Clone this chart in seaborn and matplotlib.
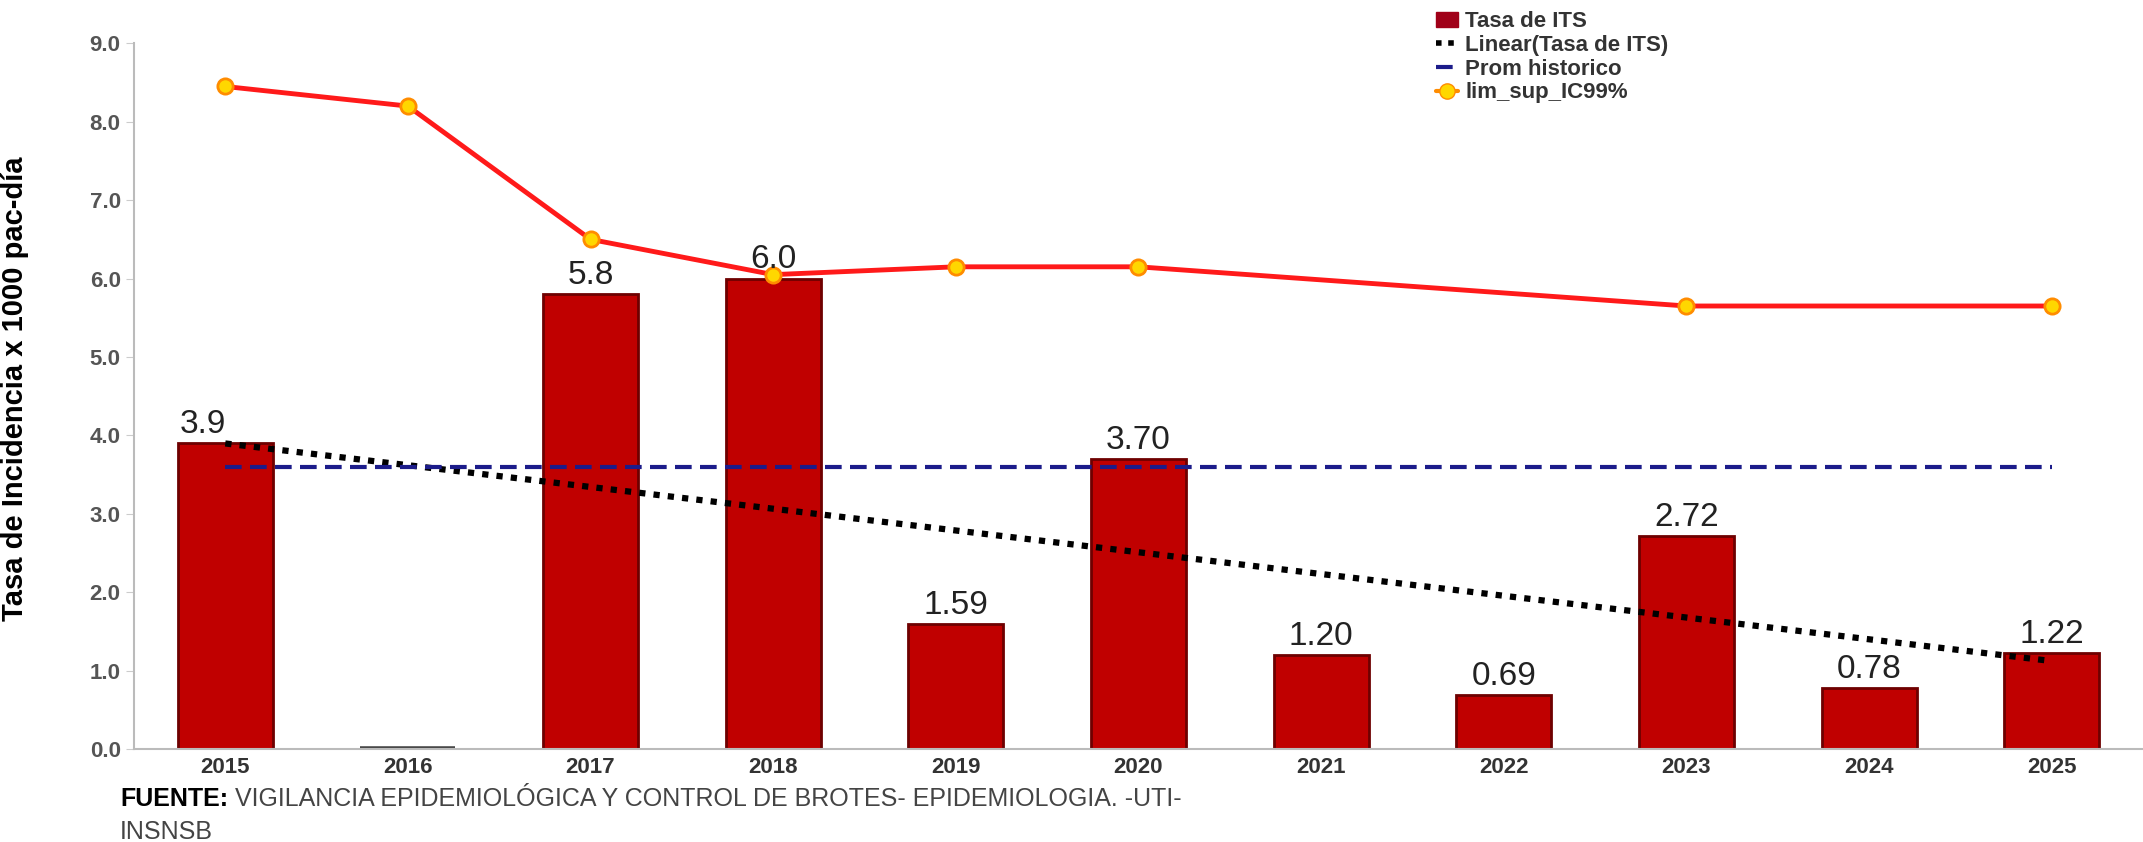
import numpy as np
import pandas as pd
import matplotlib
matplotlib.use("Agg")
import matplotlib.pyplot as plt
from matplotlib.lines import Line2D
from matplotlib.patches import Patch
import seaborn as sns

# =========================================
# DATA
# =========================================

years = ["2015", "2016", "2017", "2018", "2019", "2020",
         "2021", "2022", "2023", "2024", "2025"]

tasa_its = [3.9, 0.0, 5.8, 6.0, 1.59, 3.70, 1.20, 0.69, 2.72, 0.78, 1.22]

bar_labels = ["3.9", "", "5.8", "6.0", "1.59", "3.70",
              "1.20", "0.69", "2.72", "0.78", "1.22"]

lim_sup = [8.45, 8.2, 6.5, 6.05, 6.15, 6.15, None, None, 5.65, None, 5.65]

prom_historico = 3.6

# =========================================
# STYLE
# =========================================

sns.set_style("white")
plt.rcParams['font.family'] = ['Liberation Sans', 'DejaVu Sans']

df = pd.DataFrame({"year": years, "tasa": tasa_its, "pos": np.arange(len(years))})
df_lim = pd.DataFrame({"pos": np.arange(len(years)), "lim": lim_sup}).dropna()

fig = plt.figure(figsize=(21.43, 8.42), dpi=100)
ax = fig.add_axes([0.0625, 0.1105, 0.9375, 0.838])

# =========================================
# BARS
# =========================================

sns.barplot(
    data=df, x="year", y="tasa",
    color="#c00000", edgecolor="#6e0000", linewidth=2,
    width=0.52, saturation=1, ax=ax, zorder=2
)
# 2016 bar drawn as thin dark line
ax.patches[1].set_edgecolor("#444444")
ax.patches[1].set_linewidth(4)

for i, (v, lab) in enumerate(zip(tasa_its, bar_labels)):
    if lab:
        dx = -0.12 if i == 0 else 0
        ax.text(i + dx, v + 0.04, lab, ha="center", va="bottom",
                fontsize=24, color="#222222", zorder=6)

# =========================================
# TREND LINE
# =========================================

x = np.arange(len(years))
coef = np.polyfit(x, tasa_its, 1)
ax.plot(x, np.polyval(coef, x), color="black", linestyle=(0, (1, 1.3)),
        linewidth=4.5, zorder=4)

# =========================================
# HISTORICAL AVERAGE
# =========================================

ax.plot([x[0], x[-1]], [prom_historico, prom_historico], color="#1c1c8a",
        linestyle=(0, (4, 2)), linewidth=3, zorder=4)

# =========================================
# UPPER LIMIT IC99%
# =========================================

sns.lineplot(
    data=df_lim, x="pos", y="lim", color="#ff1a1a", linewidth=3.5,
    marker="o", markersize=11, markerfacecolor="#ffd700",
    markeredgecolor="#ff8c00", markeredgewidth=2, ax=ax, zorder=5
)

# =========================================
# AXES
# =========================================

ax.set_xlim(-0.5, len(years) - 0.5)
ax.set_ylim(0, 9.0)
ax.set_yticks(np.arange(0, 9.1, 1.0))
ax.set_yticklabels([f"{v:.1f}" for v in np.arange(0, 9.1, 1.0)],
                   fontsize=16, fontweight="bold", color="#555555")
ax.set_xticks(x)
ax.set_xticklabels(years, fontsize=16, fontweight="bold", color="#333333")
ax.set_xticks(np.arange(-0.5, len(years), 1.0), minor=True)
ax.tick_params(axis="x", which="major", length=0, pad=6)
ax.tick_params(axis="x", which="minor", length=6, color="#cccccc")
ax.tick_params(axis="y", length=6, color="#cccccc", left=True)
ax.set_xlabel("")
ax.set_ylabel("Tasa de Incidencia x 1000 pac-día", fontsize=21,
              fontweight="bold", color="black")
ax.yaxis.set_label_coords(-0.052, 0.51)

for s in ["top", "right"]:
    ax.spines[s].set_visible(False)
for s in ["left", "bottom"]:
    ax.spines[s].set_color("#bbbbbb")
    ax.spines[s].set_linewidth(1.5)

# =========================================
# LEGEND
# =========================================

handles = [
    Patch(facecolor="#a00018", edgecolor="#a00018"),
    Line2D([], [], color="black", linestyle=(0, (1, 1.2)), linewidth=4),
    Line2D([], [], color="#1c1c8a", linestyle=(0, (4, 2)), linewidth=3),
    Line2D([], [], color="#ff8c00", linewidth=3, marker="o", markersize=11,
           markerfacecolor="#ffd700", markeredgecolor="#ff8c00"),
]
names = ["Tasa de ITS", "Linear(Tasa de ITS)", "Prom historico", "lim_sup_IC99%"]
leg = fig.legend(handles, names, loc="upper left", bbox_to_anchor=(0.666, 0.997),
                 frameon=False, handlelength=1.0, handletextpad=0.3,
                 labelspacing=0.12, borderaxespad=0,
                 prop={"weight": "bold", "size": 16})
for t in leg.get_texts():
    t.set_color("#333333")

# =========================================
# FOOTNOTE
# =========================================

t1 = fig.text(0.056, 0.043, "FUENTE:", fontsize=18, fontweight="bold", color="black")
fig.canvas.draw()
bb = t1.get_window_extent().transformed(fig.transFigure.inverted())
fig.text(bb.x1, 0.043, " VIGILANCIA EPIDEMIOLÓGICA Y CONTROL DE BROTES- EPIDEMIOLOGIA. -UTI-",
         fontsize=18, color="#444444")
fig.text(0.056, 0.004, "INSNSB", fontsize=18, color="#444444")

fig.savefig("out.png", dpi=100)
plt.close(fig)
